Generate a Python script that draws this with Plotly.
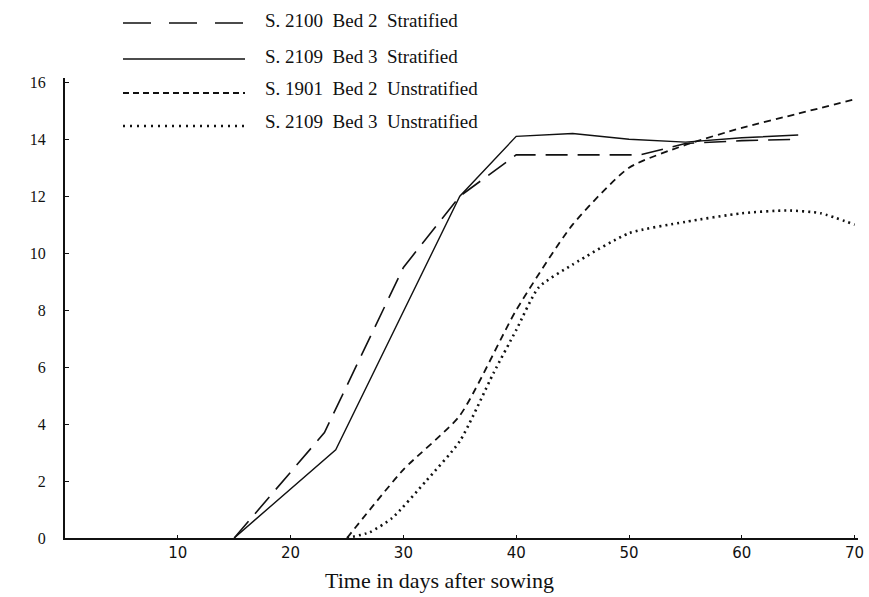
import plotly.graph_objects as go

# ---- data ----
days_s2100 = [15, 23, 30, 35, 40, 51, 55, 60, 65]
germ_s2100 = [0, 3.7, 9.5, 12.0, 13.45, 13.45, 13.85, 13.95, 14.0]

days_s2109s = [15, 24, 35, 40, 45, 50, 55, 60, 65]
germ_s2109s = [0, 3.1, 12.0, 14.1, 14.2, 14.0, 13.9, 14.05, 14.15]

days_s1901 = [25, 30, 35, 40, 45, 50, 55, 60, 65, 70]
germ_s1901 = [0, 2.4, 4.3, 8.0, 11.0, 13.0, 13.8, 14.4, 14.9, 15.4]

days_s2109u = [25, 27, 29, 32, 35, 38, 40, 42, 45, 50, 55, 60, 64, 67, 70]
germ_s2109u = [0, 0.2, 0.7, 2.0, 3.4, 5.8, 7.3, 8.8, 9.6, 10.7, 11.1, 11.4, 11.5, 11.4, 11.0]

series_names = ["S. 2100  Bed 2  Stratified",
                "S. 2109  Bed 3  Stratified",
                "S. 1901  Bed 2  Unstratified",
                "S. 2109  Bed 3  Unstratified"]
x_ticks = [10, 20, 30, 40, 50, 60, 70]
y_ticks = [0, 2, 4, 6, 8, 10, 12, 14, 16]
x_title = "Time in days after sowing"

# ---- figure geometry ----
W, H = 869, 597
L, R, T, B = 65, 11, 78, 59
plot_w = W - L - R
plot_h = H - T - B

def px_x(p):  # p: pixel in the page
    return (p - L) / plot_w

def px_y(p):
    return (H - B - p) / plot_h

ink = "#111111"
dashes = ["22px,10px", None, "7px,5px", "2px,4px"]
widths = [1.6, 1.4, 1.8, 2.6]

fig = go.Figure()
data = [(days_s2100, germ_s2100, "linear"),
        (days_s2109s, germ_s2109s, "linear"),
        (days_s1901, germ_s1901, "spline"),
        (days_s2109u, germ_s2109u, "spline")]
for (xs, ys, shape), name, d, w in zip(data, series_names, dashes, widths):
    line = dict(color=ink, width=w, shape=shape)
    if shape == "spline":
        line["smoothing"] = 0.6
    if d:
        line["dash"] = d
    fig.add_trace(go.Scatter(x=xs, y=ys, mode="lines", name=name,
                             line=line, showlegend=False))

# ---- hand-drawn style legend ----
legend_line_y = [23, 59, 93, 126]
legend_text_y = [20, 56, 89, 121]
leg_dash = ["28px,18px", "solid", "6px,4px", "2px,5px"]
shapes = []
annotations = []
for i, name in enumerate(series_names):
    shapes.append(dict(type="line", xref="paper", yref="paper",
                       x0=px_x(123), x1=px_x(245),
                       y0=px_y(legend_line_y[i]), y1=px_y(legend_line_y[i]),
                       line=dict(color=ink, width=widths[i] if i != 3 else 2.4,
                                 dash=leg_dash[i])))
    annotations.append(dict(text=name, xref="paper", yref="paper",
                            x=px_x(263), y=px_y(legend_text_y[i]),
                            xanchor="left", yanchor="middle", showarrow=False,
                            font=dict(family="Liberation Serif", size=19, color=ink)))

annotations.append(dict(text=x_title, xref="paper", yref="paper",
                        x=px_x(439), y=0, yshift=-28,
                        xanchor="center", yanchor="top", showarrow=False,
                        font=dict(family="Liberation Serif", size=22, color=ink)))

fig.update_layout(
    width=W, height=H,
    margin=dict(l=L, r=R, t=T, b=B, autoexpand=False),
    paper_bgcolor="white", plot_bgcolor="white",
    shapes=shapes, annotations=annotations,
    xaxis=dict(range=[0, 70.3], tickvals=x_ticks, ticktext=[str(v) for v in x_ticks],
               showgrid=False, zeroline=False, showline=True, linecolor=ink, linewidth=2,
               ticks="inside", ticklen=3, tickcolor=ink,
               tickfont=dict(family="DejaVu Sans", size=15, color=ink)),
    yaxis=dict(range=[0, 16.15], tickvals=y_ticks, ticktext=[str(v) for v in y_ticks],
               showgrid=False, zeroline=False, showline=True, linecolor=ink, linewidth=2,
               ticks="inside", ticklen=4, tickcolor=ink, ticklabelstandoff=14,
               tickfont=dict(family="Liberation Serif", size=16, color=ink)),
)

# remove the browser's default 8px body margin so the figure fills the window exactly
fig.write_html("out.html",
               config={"displayModeBar": False},
               post_script="document.body.style.margin='0';document.body.style.overflow='hidden';")
